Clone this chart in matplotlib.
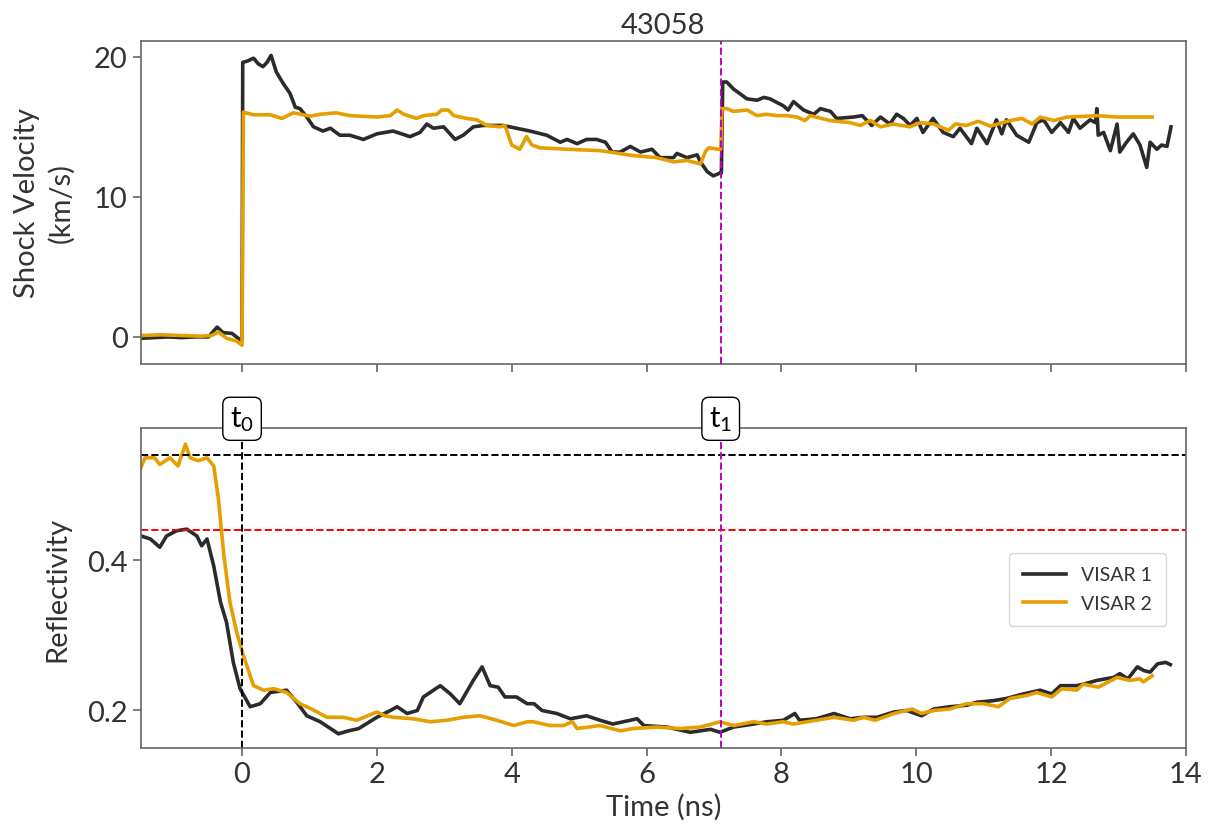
import matplotlib
matplotlib.use("Agg")
import matplotlib.pyplot as plt

plt.rcParams['font.family'] = ['Lato', 'DejaVu Sans']
plt.rcParams['mathtext.fontset'] = 'custom'
plt.rcParams['mathtext.rm'] = 'Lato'
plt.rcParams['mathtext.it'] = 'Lato'

TXT = '#333333'
SPN = '#666666'
C1 = '#2b2b2b'
C2 = '#E69F00'

title = "43058"
labels = ["VISAR 1", "VISAR 2"]
t0, t1 = 0.0, 7.1
ref_black = 0.539
ref_red = 0.44

# ---- Shock velocity, VISAR 1 ----
t1a = [-1.50, -1.30, -1.10, -0.90, -0.70, -0.50, -0.37, -0.28, -0.15, -0.03,
        0.00,  0.01,  0.08,  0.17,  0.24,  0.31,  0.37,  0.43,  0.51,  0.61,
        0.71,  0.79,  0.86,  0.96,  1.06,  1.20,  1.31,  1.45,  1.60,  1.80,
        2.00,  2.24,  2.49,  2.64,  2.74,  2.84,  2.99,  3.16,  3.28,  3.43,
        3.58,  3.87,  4.07,  4.27,  4.52,  4.72,  4.82,  4.97,  5.11,  5.26,
        5.39,  5.49,  5.61,  5.76,  5.91,  6.08,  6.20,  6.40,  6.45,  6.60,
        6.75,  6.80,  6.90,  6.99,  7.09,  7.11,  7.13,  7.19,  7.29,  7.49,
        7.64,  7.74,  7.83,  8.03,  8.10,  8.18,  8.33,  8.48,  8.58,  8.73,
        8.82,  9.07,  9.20,  9.34,  9.47,  9.61,  9.71,  9.81,  9.91, 10.01,
       10.10, 10.25, 10.40, 10.55, 10.65, 10.82, 10.90, 11.05, 11.19, 11.27,
       11.34, 11.49, 11.67, 11.79, 11.89, 12.01, 12.14, 12.26, 12.33, 12.43,
       12.58, 12.66, 12.68, 12.70, 12.78, 12.88, 12.98, 13.02, 13.12, 13.22,
       13.32, 13.42, 13.47, 13.57, 13.64, 13.72, 13.78]
v1a = [-0.10, -0.05, 0.00, -0.05, 0.00, 0.00, 0.70, 0.30, 0.25, -0.20,
       -0.10, 19.6, 19.7, 19.9, 19.5, 19.3, 19.6, 20.1, 18.9, 18.1,
       17.4, 16.4, 16.3, 15.7, 15.0, 14.7, 14.9, 14.4, 14.4, 14.1,
       14.5, 14.7, 14.3, 14.6, 15.2, 14.9, 15.0, 14.1, 14.4, 15.0,
       15.1, 15.1, 14.9, 14.7, 14.4, 13.9, 14.1, 13.8, 14.1, 14.1,
       13.9, 13.2, 13.2, 13.6, 13.2, 13.4, 12.8, 12.8, 13.1, 12.8,
       13.0, 12.5, 11.8, 11.5, 11.7, 11.7, 18.2, 18.2, 17.7, 17.0,
       16.9, 17.1, 17.0, 16.5, 16.2, 16.8, 16.2, 15.9, 16.3, 16.1,
       15.6, 15.7, 15.8, 15.1, 15.7, 15.2, 15.9, 15.6, 15.1, 15.6,
       14.6, 15.6, 14.6, 14.3, 14.9, 13.8, 14.9, 13.8, 15.5, 14.5,
       15.5, 14.4, 13.9, 15.3, 15.5, 14.6, 15.3, 14.6, 15.6, 14.9,
       15.5, 15.3, 16.3, 14.4, 14.6, 13.3, 15.2, 13.2, 13.9, 14.5,
       13.7, 12.1, 13.9, 13.4, 13.7, 13.6, 15.0]

# ---- Shock velocity, VISAR 2 ----
t2a = [-1.50, -1.20, -0.90, -0.60, -0.45, -0.35, -0.23, -0.08, 0.00, 0.02,
        0.17,  0.42,  0.59,  0.76,  1.01,  1.16,  1.40,  1.60,  2.00,  2.20,
        2.30,  2.40,  2.59,  2.69,  2.89,  2.96,  3.06,  3.14,  3.33,  3.48,
        3.63,  3.83,  3.90,  4.00,  4.12,  4.22,  4.30,  4.42,  4.82,  5.31,
        5.80,  6.15,  6.40,  6.60,  6.80,  6.87,  6.92,  7.07,  7.10,  7.12,
        7.19,  7.29,  7.49,  7.64,  7.78,  7.93,  8.08,  8.23,  8.35,  8.43,
        8.72,  9.02,  9.17,  9.32,  9.47,  9.66,  9.91, 10.06, 10.26, 10.48,
       10.58, 10.75, 10.92, 11.10, 11.39, 11.57, 11.72, 11.84, 12.04, 12.24,
       12.49, 12.68, 12.98, 13.22, 13.50]
v2a = [0.10, 0.15, 0.10, 0.05, 0.10, 0.35, -0.10, -0.30, -0.60, 16.05,
       15.86, 15.86, 15.6, 16.0, 15.76, 15.9, 16.0, 15.8, 15.7, 15.8,
       16.2, 15.9, 15.6, 15.8, 15.9, 16.2, 16.2, 15.8, 15.6, 15.5,
       15.1, 15.0, 15.1, 13.7, 13.4, 14.3, 13.7, 13.5, 13.4, 13.3,
       12.95, 12.8, 12.5, 12.6, 12.35, 13.2, 13.5, 13.4, 13.4, 16.3,
       16.3, 16.1, 16.2, 15.8, 15.9, 15.8, 15.8, 15.7, 15.45, 15.8,
       15.45, 15.3, 15.1, 15.45, 15.0, 15.2, 15.0, 15.3, 15.2, 14.75,
       15.2, 15.1, 15.4, 15.05, 15.45, 15.6, 15.2, 15.7, 15.45, 15.7,
       15.75, 15.8, 15.7, 15.7, 15.7]

# ---- Reflectivity, VISAR 1 ----
t1b = [-1.50, -1.36, -1.22, -1.12, -0.97, -0.82, -0.67, -0.60, -0.52, -0.42,
       -0.32, -0.23, -0.13, -0.03,  0.12,  0.27,  0.42,  0.66,  0.81,  0.96,
        1.16,  1.43,  1.58,  1.73,  2.00,  2.20,  2.30,  2.45,  2.60,  2.69,
        2.94,  3.09,  3.23,  3.43,  3.56,  3.68,  3.80,  3.90,  4.07,  4.23,
        4.33,  4.45,  4.67,  4.87,  5.11,  5.31,  5.50,  5.86,  5.96,  6.30,
        6.65,  6.95,  7.09,  7.29,  7.59,  7.78,  8.03,  8.20,  8.27,  8.52,
        8.78,  9.02,  9.22,  9.42,  9.67,  9.86, 10.08, 10.26, 10.50, 10.75,
       10.90, 11.14, 11.34, 11.59, 11.84, 12.01, 12.14, 12.38, 12.48, 12.68,
       12.93, 13.02, 13.14, 13.28, 13.38, 13.47, 13.58, 13.70, 13.77]
r1b = [0.432, 0.428, 0.417, 0.432, 0.439, 0.441, 0.432, 0.419, 0.428, 0.392,
       0.344, 0.317, 0.264, 0.229, 0.205, 0.209, 0.224, 0.227, 0.211, 0.193,
       0.185, 0.169, 0.173, 0.176, 0.191, 0.200, 0.205, 0.196, 0.200, 0.218,
       0.233, 0.222, 0.209, 0.240, 0.258, 0.233, 0.231, 0.218, 0.218, 0.209,
       0.209, 0.200, 0.196, 0.189, 0.193, 0.187, 0.182, 0.189, 0.180, 0.178,
       0.171, 0.175, 0.171, 0.178, 0.182, 0.185, 0.187, 0.196, 0.187, 0.189,
       0.196, 0.189, 0.191, 0.191, 0.198, 0.200, 0.193, 0.202, 0.205, 0.207,
       0.211, 0.213, 0.216, 0.222, 0.227, 0.222, 0.233, 0.233, 0.235, 0.240,
       0.244, 0.249, 0.242, 0.258, 0.253, 0.251, 0.262, 0.264, 0.261]

# ---- Reflectivity, VISAR 2 ----
t2b = [-1.50, -1.44, -1.30, -1.22, -1.07, -0.95, -0.84, -0.77, -0.65, -0.52,
       -0.42, -0.35, -0.27, -0.18, -0.08,  0.02,  0.17,  0.32,  0.47,  0.66,
        0.86,  1.03,  1.26,  1.50,  1.70,  2.00,  2.12,  2.24,  2.54,  2.79,
        3.04,  3.28,  3.53,  3.78,  4.03,  4.23,  4.32,  4.57,  4.77,  4.90,
        4.97,  5.31,  5.61,  5.80,  6.15,  6.50,  6.80,  7.09,  7.29,  7.59,
        7.78,  8.03,  8.18,  8.52,  8.78,  9.07,  9.22,  9.39,  9.67,  9.94,
       10.08, 10.26, 10.50, 10.75, 11.00, 11.22, 11.39, 11.64, 11.79, 12.01,
       12.16, 12.38, 12.48, 12.70, 12.98, 13.17, 13.32, 13.37, 13.50]
r2b = [0.523, 0.536, 0.536, 0.527, 0.536, 0.525, 0.554, 0.536, 0.532, 0.536,
       0.525, 0.481, 0.406, 0.344, 0.304, 0.273, 0.233, 0.227, 0.229, 0.224,
       0.209, 0.202, 0.191, 0.191, 0.187, 0.198, 0.193, 0.191, 0.189, 0.185,
       0.187, 0.191, 0.193, 0.187, 0.180, 0.185, 0.185, 0.180, 0.180, 0.185,
       0.176, 0.180, 0.173, 0.176, 0.178, 0.176, 0.178, 0.185, 0.180, 0.185,
       0.182, 0.185, 0.182, 0.187, 0.191, 0.187, 0.191, 0.187, 0.196, 0.202,
       0.196, 0.200, 0.202, 0.209, 0.209, 0.205, 0.216, 0.220, 0.224, 0.218,
       0.229, 0.227, 0.235, 0.231, 0.244, 0.240, 0.242, 0.238, 0.246]

FS = 21

fig = plt.figure(figsize=(12.15, 8.37), dpi=100)
ax1 = fig.add_axes([0.116, 0.564, 0.860, 0.386])
ax2 = fig.add_axes([0.116, 0.105, 0.860, 0.382], sharex=ax1)

for ax in (ax1, ax2):
    for s in ax.spines.values():
        s.set_color(SPN)
        s.set_linewidth(1.2)
    ax.tick_params(colors=SPN, labelcolor=TXT, labelsize=FS, width=1.2, length=6)

ax1.plot(t1a, v1a, color=C1, lw=2.6, label=labels[0])
ax1.plot(t2a, v2a, color=C2, lw=2.6, label=labels[1])
ax1.axvline(t1, color='#c000c0', ls='--', lw=1.4, zorder=3)
ax1.set_ylim(-1.93, 21.14)
ax1.set_yticks([0, 10, 20])
ax1.set_ylabel("Shock Velocity\n(km/s)", fontsize=FS, color=TXT, labelpad=14,
               linespacing=1.35)
ax1.set_title(title, fontsize=FS, color=TXT, pad=6)
plt.setp(ax1.get_xticklabels(), visible=False)

ax2.plot(t1b, r1b, color=C1, lw=2.6, label=labels[0])
ax2.plot(t2b, r2b, color=C2, lw=2.6, label=labels[1])
ax2.axhline(ref_black, color='black', ls='--', lw=1.4)
ax2.axhline(ref_red, color='red', ls='--', lw=1.4)
ax2.axvline(t0, color='black', ls='--', lw=1.4)
ax2.axvline(t1, color='#c000c0', ls='--', lw=1.4)
ax2.set_ylim(0.15, 0.575)
ax2.set_yticks([0.2, 0.4])
ax2.set_xlim(-1.5, 14)
ax2.set_xticks([0, 2, 4, 6, 8, 10, 12, 14])
ax2.set_ylabel("Reflectivity", fontsize=FS, color=TXT, labelpad=12)
ax2.set_xlabel("Time (ns)", fontsize=FS, color=TXT, labelpad=4)

for tx, lab in ((t0, r"t$_0$"), (t1, r"t$_1$")):
    ax2.annotate(lab, xy=(tx, 1.03), xycoords=('data', 'axes fraction'),
                 ha='center', va='center', fontsize=FS, color='black',
                 bbox=dict(boxstyle='round,pad=0.25', fc='white', ec='black', lw=1.0),
                 annotation_clip=False, zorder=10)

leg = ax2.legend(loc='center right', bbox_to_anchor=(0.99, 0.497), fontsize=14,
                 frameon=True, fancybox=True, handlelength=2.2, borderpad=0.7,
                 labelspacing=0.6)
for txt in leg.get_texts():
    txt.set_color(TXT)
leg.get_frame().set_edgecolor('#cccccc')

fig.savefig("out.png", dpi=100)
